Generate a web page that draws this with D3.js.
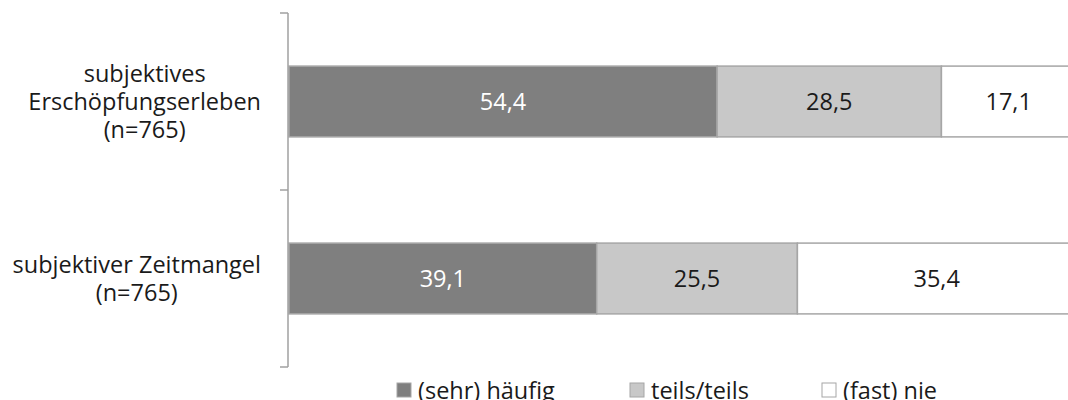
<!DOCTYPE html>
<html>
<head>
<meta charset="utf-8">
<script src="https://cdn.jsdelivr.net/npm/d3@7"></script>
<style>
  body { margin: 0; background: #fff; }
  text { font-family: "Open Sans", sans-serif; }
</style>
</head>
<body>
<div id="chart"></div>
<script>
// data
var categories = [
    ["subjektives", "Erschöpfungserleben", "(n=765)"],
    ["subjektiver Zeitmangel", "(n=765)"]
];
var seriesNames = ["(sehr) häufig", "teils/teils", "(fast) nie"];
var haeufig = [54.4, 39.1];
var teils = [28.5, 25.5];
var nie = [17.1, 35.4];
var colors = ["#7f7f7f", "#c8c8c8", "#ffffff"];
var labelColors = ["#ffffff", "#1a1a1a", "#1a1a1a"];

var W = 1068, H = 400;
var fs = 23.5;
var svg = d3.select("#chart").append("svg")
    .attr("width", W).attr("height", H);

var x = d3.scaleLinear().domain([0, 100]).range([289, 1076]);
var y = d3.scaleBand().domain(d3.range(categories.length))
    .range([13, 367]).paddingInner(0.6).paddingOuter(0.3);

var allSeries = [haeufig, teils, nie];

// bars
categories.forEach(function(c, i){
    var start = 0;
    allSeries.forEach(function(s, k){
        var v = s[i];
        svg.append("rect")
            .attr("x", x(start))
            .attr("y", y(i))
            .attr("width", x(start + v) - x(start))
            .attr("height", y.bandwidth())
            .attr("fill", colors[k])
            .attr("stroke", "#a6a6a6")
            .attr("stroke-width", 1.5);
        svg.append("text")
            .attr("x", (x(start) + x(start + v)) / 2)
            .attr("y", y(i) + y.bandwidth() / 2)
            .attr("dy", "0.36em")
            .attr("text-anchor", "middle")
            .attr("font-size", fs)
            .attr("fill", labelColors[k])
            .text(d3.format(".1f")(v).replace(".", ","));
        start += v;
    });
});

// category axis
var axisX = 288;
svg.append("line")
    .attr("x1", axisX).attr("x2", axisX)
    .attr("y1", 13).attr("y2", 367)
    .attr("stroke", "#a0a0a0").attr("stroke-width", 1.5);
var tickYs = [13, 367];
categories.forEach(function(c, i){ if (i > 0) tickYs.push(y(i) - y.step() * y.paddingInner() / 2); });
tickYs.forEach(function(ty){
    svg.append("line")
        .attr("x1", axisX - 8).attr("x2", axisX)
        .attr("y1", ty).attr("y2", ty)
        .attr("stroke", "#a0a0a0").attr("stroke-width", 1.5);
});

// category labels: lines centered within a right-aligned block
categories.forEach(function(lines, i){
    var g = svg.append("g");
    var lh = 28;
    var cy = y(i) + y.bandwidth() / 2;
    var texts = lines.map(function(l, j){
        return g.append("text")
            .attr("y", cy + (j - (lines.length - 1) / 2) * lh)
            .attr("dy", "0.36em")
            .attr("text-anchor", "middle")
            .attr("font-size", fs)
            .attr("fill", "#1a1a1a")
            .text(l);
    });
    var maxW = d3.max(texts, function(t){ return t.node().getComputedTextLength(); });
    texts.forEach(function(t){ t.attr("x", 261 - maxW / 2); });
});

// legend
var legendX = [397, 630, 822];
seriesNames.forEach(function(n, k){
    svg.append("rect")
        .attr("x", legendX[k]).attr("y", 383)
        .attr("width", 14).attr("height", 14)
        .attr("fill", colors[k])
        .attr("stroke", "#a6a6a6").attr("stroke-width", 1);
    svg.append("text")
        .attr("x", legendX[k] + 21).attr("y", 399)
        .attr("font-size", fs)
        .attr("fill", "#1a1a1a")
        .text(n);
});
</script>
</body>
</html>
